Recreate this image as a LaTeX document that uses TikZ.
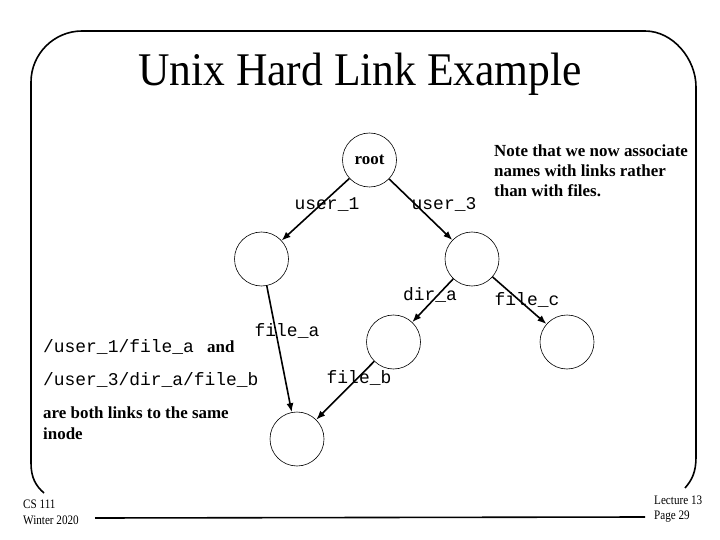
\documentclass[tikz,border=0pt]{standalone}
\usepackage{fontspec}
\usepackage{graphicx}
\setmainfont{Liberation Serif}
\setmonofont{Liberation Mono}
\usetikzlibrary{arrows.meta}
\begin{document}
\begin{tikzpicture}[x=1bp,y=-1bp,
  inodec/.style={circle,draw,line width=0.6bp,minimum size=54bp,inner sep=0pt,font=\fontsize{17}{20}\selectfont\bfseries},
  link/.style={line width=1.6bp,-{Latex[length=9bp,width=7bp]}},
  lbl/.style={font=\fontsize{18}{21}\selectfont\ttfamily,inner sep=0pt,anchor=base},
  mtxt/.style={font=\fontsize{18}{21}\selectfont\ttfamily,inner sep=0pt,anchor=base west},
  btxt/.style={font=\fontsize{17}{20}\selectfont\bfseries,inner sep=0pt,anchor=base west},
  foot/.style={font=\fontsize{13}{15}\selectfont,inner sep=0pt,anchor=base west},
  frameline/.style={line width=1.6bp}]
\useasboundingbox (0,0) rectangle (720,540);
% frame
\draw[frameline] (44,493) .. controls (36,486) and (31,478) .. (31,463)
  -- (31,82) .. controls (31,54) and (54,31) .. (82,31)
  -- (645,31) .. controls (673,31) and (696,59) .. (696,87)
  -- (696,457) .. controls (696,472) and (692,480) .. (685,488);
\draw[frameline] (95,518) -- (645,517);
% title
\node[font=\fontsize{47}{52}\selectfont,inner sep=0pt,anchor=base] (title) at (360,86) {\scalebox{0.93}[1]{Unix Hard Link Example}};
% nodes
\node[inodec] (root) at (369.5,160) {root};
\node[inodec] (u1) at (261.5,259) {};
\node[inodec] (u3) at (472,259) {};
\node[inodec] (da) at (393.5,342) {};
\node[inodec] (fc) at (567,342) {};
\node[inodec] (ino) at (297,439) {};
% links
\draw[link] (root) -- (u1);
\draw[link] (root) -- (u3);
\draw[link] (u1) -- (ino);
\draw[link] (u3) -- (da);
\draw[link] (u3) -- (fc);
\draw[link] (da) -- (ino);
% link labels
\node[lbl] (l1) at (327,210) {user\_1};
\node[lbl] (l3) at (444,210) {user\_3};
\node[lbl] (lda) at (430,300) {dir\_a};
\node[lbl] (lfc) at (527,305) {file\_c};
\node[lbl] (lfa) at (287,336) {file\_a};
\node[lbl] (lfb) at (359,383) {file\_b};
% note
\node[btxt] (n1) at (494,157) {Note that we now associate};
\node[btxt] (n2) at (494,177) {names with links rather};
\node[btxt] (n3) at (494,197) {than with files.};
% left text
\node[mtxt] (p1) at (43,352) {/user\_1/file\_a};
\node[btxt] (and) at (207,352) {and};
\node[mtxt] (p2) at (43,385) {/user\_3/dir\_a/file\_b};
\node[btxt] (b1) at (43,418) {are both links to the same};
\node[btxt] (b2) at (43,439) {inode};
% footer
\node[foot] (f1) at (23,508) {\scalebox{0.86}[1]{CS 111}};
\node[foot] (f2) at (23,524) {\scalebox{0.86}[1]{Winter 2020}};
\node[foot] (f3) at (654,504) {\scalebox{0.86}[1]{Lecture 13}};
\node[foot] (f4) at (654,519) {\scalebox{0.86}[1]{Page 29}};
\end{tikzpicture}
\end{document}
